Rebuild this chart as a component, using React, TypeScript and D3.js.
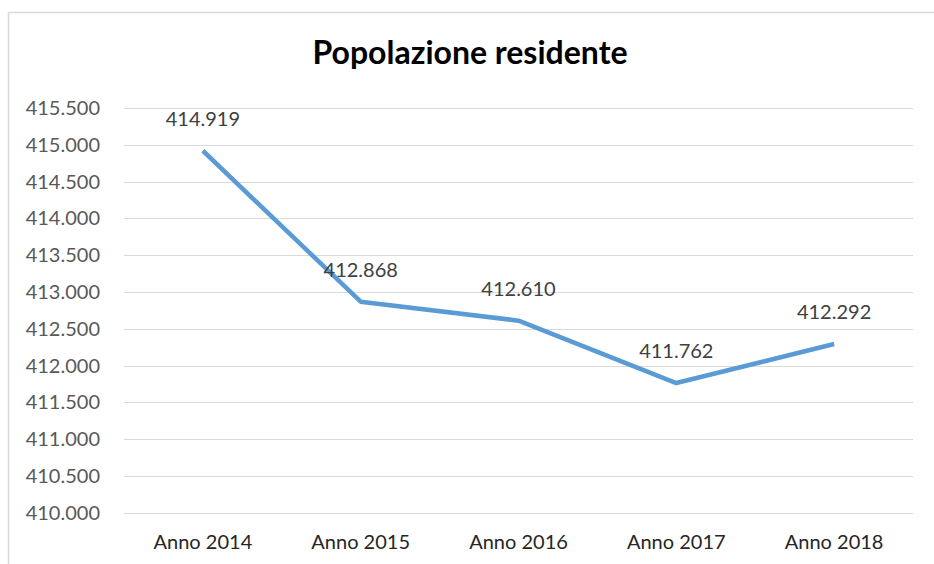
import { useEffect, useRef } from "react";
import * as d3 from "d3";

const categories = ["Anno 2014", "Anno 2015", "Anno 2016", "Anno 2017", "Anno 2018"];
const values = [414919, 412868, 412610, 411762, 412292];
const yTicks = d3.range(410000, 415501, 500);

const fmt = (v: number) => d3.format(",")(v).replace(/,/g, ".");

export default function App() {
  const ref = useRef<SVGSVGElement>(null);

  useEffect(() => {
    const width = 934;
    const height = 564;
    const svg = d3.select(ref.current).attr("width", width).attr("height", height);
    svg.selectAll("*").remove();

    const font = "Lato, 'Open Sans', sans-serif";

    // outer chart border (only left and top visible)
    svg.append("rect")
      .attr("x", 8.5).attr("y", 12.5)
      .attr("width", 1000).attr("height", 1000)
      .attr("fill", "none")
      .attr("stroke", "#d9d9d9")
      .attr("stroke-width", 1.5);

    const x = d3.scaleBand().domain(categories).range([124, 913]);
    const y = d3.scaleLinear().domain([410000, 415500]).range([512.7, 108]);

    // title
    svg.append("text")
      .attr("x", 470).attr("y", 64)
      .attr("text-anchor", "middle")
      .attr("font-family", font)
      .attr("font-weight", "bold")
      .attr("font-size", 32)
      .attr("fill", "#000")
      .text("Popolazione residente");

    // gridlines
    svg.append("g").selectAll("line")
      .data(yTicks)
      .join("line")
      .attr("x1", 124).attr("x2", 913)
      .attr("y1", d => Math.round(y(d)) + 0.5)
      .attr("y2", d => Math.round(y(d)) + 0.5)
      .attr("stroke", "#d9d9d9")
      .attr("stroke-width", 1.2);

    // y labels
    svg.append("g").selectAll("text")
      .data(yTicks)
      .join("text")
      .attr("x", 100)
      .attr("y", d => y(d))
      .attr("dy", "0.35em")
      .attr("text-anchor", "end")
      .attr("font-family", font)
      .attr("font-size", 20)
      .attr("fill", "#595959")
      .text(d => fmt(d));

    // x labels
    svg.append("g").selectAll("text")
      .data(categories)
      .join("text")
      .attr("x", d => x(d)! + x.bandwidth() / 2)
      .attr("y", 549)
      .attr("text-anchor", "middle")
      .attr("font-family", font)
      .attr("font-size", 20)
      .attr("fill", "#262626")
      .text(d => d);

    const line = d3.line<number>()
      .x((_, i) => x(categories[i])! + x.bandwidth() / 2)
      .y(d => y(d));

    svg.append("path")
      .datum(values)
      .attr("fill", "none")
      .attr("stroke", "#5b9bd5")
      .attr("stroke-width", 4.5)
      .attr("stroke-linejoin", "round")
      .attr("d", line);

    // data labels
    svg.append("g").selectAll("text")
      .data(values)
      .join("text")
      .attr("x", (_, i) => x(categories[i])! + x.bandwidth() / 2)
      .attr("y", d => y(d) - 25)
      .attr("text-anchor", "middle")
      .attr("font-family", font)
      .attr("font-size", 20)
      .attr("fill", "#404040")
      .text(d => fmt(d));
  }, []);

  return <svg ref={ref} style={{ position: "absolute", left: 0, top: 0 }}></svg>;
}
